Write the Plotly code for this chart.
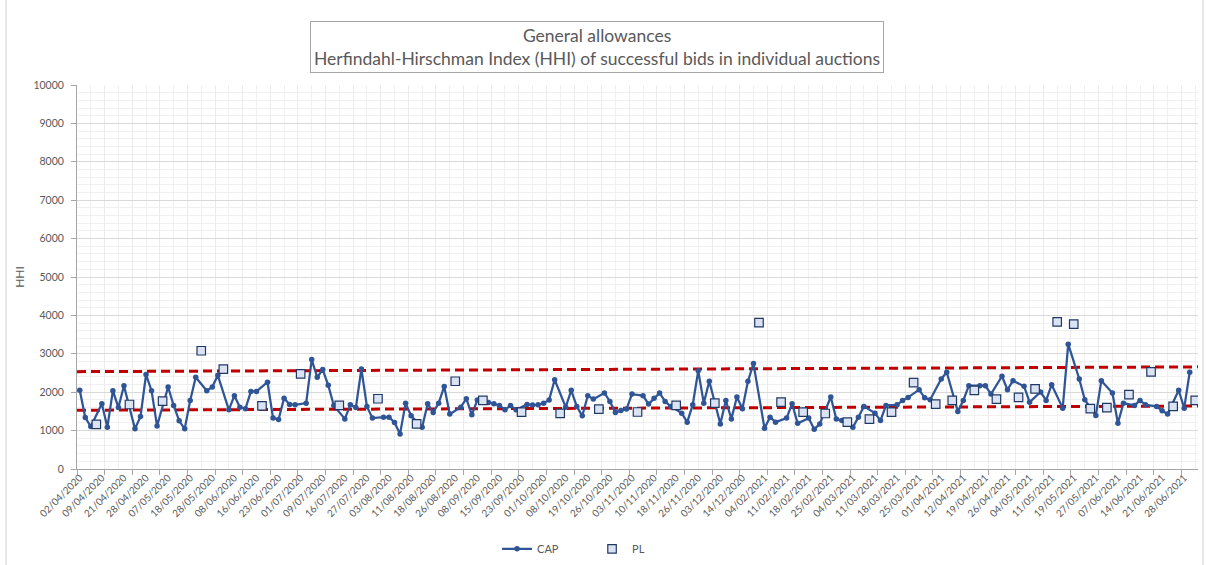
import plotly.graph_objects as go

# ---------------- data ----------------
tick_labels = ["02/04/2020","09/04/2020","21/04/2020","28/04/2020","07/05/2020","18/05/2020","28/05/2020",
               "08/06/2020","16/06/2020","23/06/2020","01/07/2020","09/07/2020","16/07/2020","27/07/2020",
               "03/08/2020","11/08/2020","18/08/2020","26/08/2020","08/09/2020","15/09/2020","23/09/2020",
               "01/10/2020","08/10/2020","19/10/2020","26/10/2020","03/11/2020","10/11/2020","18/11/2020",
               "26/11/2020","03/12/2020","14/12/2020","04/02/2021","11/02/2021","18/02/2021","25/02/2021",
               "04/03/2021","11/03/2021","18/03/2021","25/03/2021","01/04/2021","12/04/2021","19/04/2021",
               "26/04/2021","04/05/2021","11/05/2021","19/05/2021","27/05/2021","07/06/2021","14/06/2021",
               "21/06/2021","28/06/2021"]
label_every = 4  # one date label every 4 auctions

N = None
# CAP HHI per auction (None where the auction was a PL auction)
cap = [2050,1340,1105,N,1700,1090,2040,1600,2170,N,
       1045,1365,2460,2040,1120,N,2135,1655,1255,1045,
       1785,2390,N,2040,2135,2440,N,1540,1910,1610,
       1570,2020,2020,N,2260,1325,1290,1845,1680,1670,
       N,1715,2850,2390,2590,2180,1655,N,1305,1670,
       1600,2605,1630,1325,N,1350,1350,1210,910,1715,
       1385,N,1085,1700,1470,1715,2150,1430,N,1610,
       1830,1410,1800,N,1735,1700,1655,1540,1655,1540,
       N,1680,1665,1670,1715,1800,2325,N,1610,2050,
       1630,1385,1910,1820,N,1980,1760,1470,1525,1560,
       1950,N,1910,1690,1845,1980,1760,1630,N,1455,
       1220,1670,2560,1715,2285,N,1175,1785,1305,1875,
       1570,2285,2745,N,1060,1350,1220,N,1325,1700,
       1190,N,1325,1035,1175,N,1875,1300,1260,N,
       1085,1350,1630,N,1455,1260,1655,N,1670,1785,
       1865,N,2065,1855,1805,N,2345,2520,N,1500,
       1785,2170,N,2170,2170,1950,N,2415,2065,2300,
       N,2155,1740,N,2005,1785,2195,N,1585,3250,
       N,2345,1805,N,1395,2300,N,1980,1190,1715,
       N,1655,1785,1670,N,1630,1515,1430,N,2050,
       1585,2520,N]

# PL auctions: position in the auction sequence and HHI
pl_pos = [3,9,15,22,26,33,40,47,54,61,68,73,80,87,94,101,108,115,123,127,131,135,139,143,147,151,
          155,158,162,166,170,173,177,180,183,186,190,194,198,202]
pl_val = [1160,1680,1770,3080,2600,1645,2475,1655,1830,1175,2285,1785,1480,1450,1560,1485,1655,1715,
          3810,1740,1480,1445,1220,1300,1480,2250,1690,1785,2050,1820,1865,2085,3830,3775,1570,1600,
          1935,2530,1630,1785]

# dashed red reference bands (value at first and last auction)
lower_band = [1530, 1640]
upper_band = [2535, 2660]

# ---------------- figure ----------------
n = len(cap)
xs = list(range(n))
edge = [-0.5, n - 0.5]
grey = "#595959"
font_family = "Lato, 'Open Sans', sans-serif"

fig = go.Figure()

for band in (upper_band, lower_band):
    fig.add_trace(go.Scatter(x=edge, y=band, mode="lines", showlegend=False, hoverinfo="skip",
                             line=dict(color="#C00000", width=3, dash="9px,5px")))

fig.add_trace(go.Scatter(x=xs, y=cap, name="CAP", mode="lines+markers", connectgaps=True,
                         line=dict(color="#2F5597", width=2.25),
                         marker=dict(color="#2F5597", size=5.5, symbol="circle")))

fig.add_trace(go.Scatter(x=pl_pos, y=pl_val, name="PL", mode="markers", xaxis="x2",
                         marker=dict(symbol="square", size=8.5, color="#DAE3F3",
                                     line=dict(color="#203864", width=1.2))))

fig.update_layout(
    width=1210, height=565,
    margin=dict(l=77, r=12, t=85, b=96, autoexpand=False),
    paper_bgcolor="white", plot_bgcolor="white",
    font=dict(family=font_family, color=grey, size=11),
    showlegend=True,
    legend=dict(orientation="h", x=0.3747, xanchor="left", y=-0.208, yanchor="middle",
                font=dict(size=11, color=grey), itemwidth=30, tracegroupgap=0,
                entrywidth=50, entrywidthmode="pixels"),
    xaxis=dict(range=edge, tickmode="linear", tick0=-0.5, dtick=5, automargin=False,
               ticks="outside", ticklen=5, tickcolor="#a6a6a6", showticklabels=False,
               showgrid=True, gridcolor="#ebebeb", gridwidth=1,
               minor=dict(tickmode="linear", tick0=-0.5, dtick=2.5, showgrid=True,
                          gridcolor="#f0f0f0", gridwidth=1, ticks=""),
               showline=True, linecolor="#a6a6a6", linewidth=1, zeroline=False),
    xaxis2=dict(overlaying="x", matches="x", range=edge, side="bottom", automargin=False,
                tickmode="array",
                tickvals=[i * label_every for i in range(len(tick_labels))],
                ticktext=tick_labels, tickangle=-45, ticks="",
                tickfont=dict(size=10, color=grey), showgrid=False, showline=False,
                zeroline=False),
    yaxis=dict(range=[0, 10000], tickmode="linear", tick0=0, dtick=1000, tickformat="d",
               automargin=False, ticklabelstandoff=5,
               ticks="outside", ticklen=5, tickcolor="#a6a6a6",
               tickfont=dict(size=10.5, color=grey),
               showgrid=True, gridcolor="#d9d9d9", gridwidth=1,
               minor=dict(tickmode="linear", tick0=0, dtick=200, showgrid=True,
                          gridcolor="#f0f0f0", gridwidth=1),
               showline=True, linecolor="#a6a6a6", linewidth=1, zeroline=False,
               title=dict(text="HHI", font=dict(size=12, color=grey), standoff=6)),
    annotations=[dict(
        text="General allowances<br>Herfindahl-Hirschman Index (HHI) of successful bids in individual auctions",
        xref="paper", yref="paper", x=0.464, y=1.099, xanchor="center", yanchor="middle",
        showarrow=False, align="center", font=dict(size=17.5, color=grey, family=font_family),
        bordercolor="#a6a6a6", borderwidth=1, borderpad=3, bgcolor="white")],
    shapes=[dict(type="rect", xref="paper", yref="paper",
                 x0=-0.0633, x1=1.0045, y0=-0.27, y1=1.3,
                 line=dict(color="#d0d0d0", width=1), layer="below")],
)

fig.write_html("out.html", config={"displayModeBar": False},
               post_script="document.body.style.margin='0px';")
